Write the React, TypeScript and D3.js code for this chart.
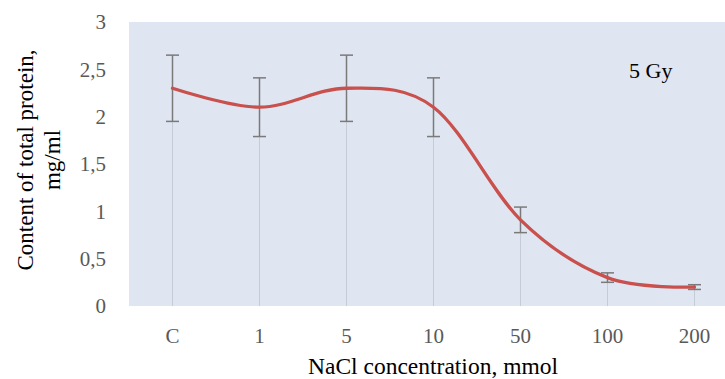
import React from "react";
import * as d3 from "d3";

const categories = ["C", "1", "5", "10", "50", "100", "200"];
const values = [2.3, 2.1, 2.3, 2.1, 0.91, 0.3, 0.2];
const errors = [0.35, 0.31, 0.35, 0.31, 0.135, 0.05, 0.025];
const yTicks = [0, 0.5, 1, 1.5, 2, 2.5, 3];
const yTickLabels = ["0", "0,5", "1", "1,5", "2", "2,5", "3"];

const W = 725;
const H = 379;
const left = 129;
const right = 738;
const top = 22;
const bottom = 306;

export default function App() {
  const x = d3.scalePoint<string>().domain(categories).range([left, right]).padding(0.5);
  const y = d3.scaleLinear().domain([0, 3]).range([bottom, top]);
  const pts = categories.map((c, i) => [x(c) as number, y(values[i])] as [number, number]);
  const line = d3.line().curve(d3.curveCatmullRom.alpha(0))(pts) || "";
  const font = "'Liberation Serif', 'Times New Roman', serif";
  return (
    <svg width={W} height={H} style={{ position: "absolute", left: 0, top: 0 }}>
      <rect x={0} y={0} width={W} height={H} fill="#ffffff" />
      <rect x={left} y={top} width={right - left} height={bottom - top} fill="#dfe6f1" />
      {categories.map((c, i) => (
        <line key={"d" + c} x1={x(c)} x2={x(c)} y1={y(values[i])} y2={bottom} stroke="#c6ccd5" strokeWidth={1} />
      ))}
      {yTicks.map((t, i) => (
        <text key={"yt" + t} x={106} y={y(t)} dy="0.35em" textAnchor="end" fontFamily={font} fontSize={21} fill="#595959">
          {yTickLabels[i]}
        </text>
      ))}
      {categories.map((c) => (
        <text key={"xt" + c} x={x(c)} y={343} textAnchor="middle" fontFamily={font} fontSize={21} fill="#595959">
          {c}
        </text>
      ))}
      {categories.map((c, i) => {
        const cx = x(c) as number;
        const y1 = y(values[i] + errors[i]);
        const y2 = y(values[i] - errors[i]);
        return (
          <g key={"e" + c} stroke="#7a7a7a" strokeWidth={1.5}>
            <line x1={cx} x2={cx} y1={y1} y2={y2} />
            <line x1={cx - 6.5} x2={cx + 6.5} y1={y1} y2={y1} />
            <line x1={cx - 6.5} x2={cx + 6.5} y1={y2} y2={y2} />
          </g>
        );
      })}
      <path d={line} fill="none" stroke="#c9504c" strokeWidth={3.3} strokeLinecap="round" />
      <text x={629} y={78} fontFamily={font} fontSize={22} fill="#000000">5 Gy</text>
      <text x={433} y={374} textAnchor="middle" fontFamily={font} fontSize={23.5} fill="#000000">
        NaCl concentration, mmol
      </text>
      <g transform="translate(33,160) rotate(-90)">
        <text x={0} y={0} textAnchor="middle" fontFamily={font} fontSize={23} fill="#000000">
          Content of total protein,
        </text>
        <text x={0} y={27} textAnchor="middle" fontFamily={font} fontSize={23} fill="#000000">
          mg/ml
        </text>
      </g>
    </svg>
  );
}
